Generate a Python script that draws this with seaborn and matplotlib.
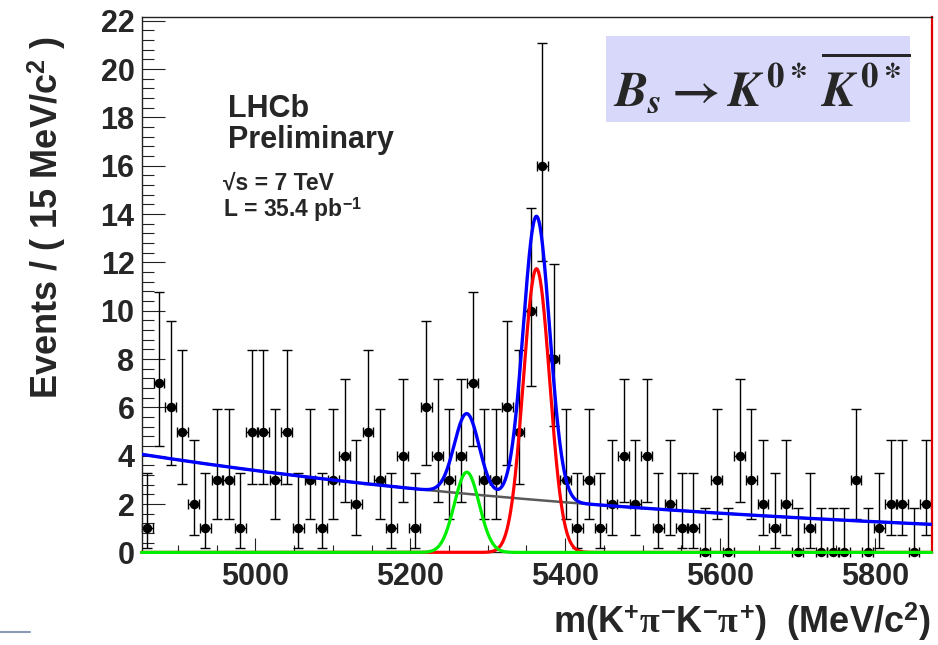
import math
import numpy as np
import pandas as pd
import matplotlib
matplotlib.use("Agg")
import matplotlib.pyplot as plt
from matplotlib.lines import Line2D
from matplotlib.patches import Rectangle
from matplotlib.ticker import MultipleLocator
import seaborn as sns

# ---- histogram: candidates per 15 MeV/c^2 bin ----
mass_lo = 4853.0
mass_hi = 5873.0
bin_width = 15.0
counts = [1, 7, 6, 5, 2, 1, 3, 3, 1, 5, 5, 3, 5, 1, 3, 1, 3, 4, 2, 5, 3, 1, 4,
          1, 6, 4, 3, 4, 7, 3, 3, 6, 5, 10, 16, 8, 3, 1,
          3, 1, 2, 4, 2, 4, 1, 2, 1, 1, 0, 3, 0, 4, 3, 2, 1, 2, 0, 1, 0, 0, 0,
          3, 0, 1, 2, 2, 0, 2]

# ---- fit model components (events per bin) ----
bkg_at_lo = 4.06          # exponential background at the low edge
bkg_at_hi = 1.16          # ... and at the high edge
bs_mean, bs_sigma, bs_peak = 5363.0, 17.0, 11.74   # B_s signal
bd_mean, bd_sigma, bd_peak = 5273.0, 16.0, 3.32    # B_d signal

x_ticks = [5000, 5200, 5400, 5600, 5800]
x_tick_labels = ["5000", "5200", "5400", "5600", "5800"]
y_ticks = [0, 2, 4, 6, 8, 10, 12, 14, 16, 18, 20, 22]
y_max = 22.17

W, H = 938, 645


def poisson_cdf(k, mu):
    term = math.exp(-mu)
    total = term
    for i in range(1, k + 1):
        term *= mu / i
        total += term
    return total


def bisect(f, lo, hi):
    for _ in range(80):
        mid = 0.5 * (lo + hi)
        if f(mid) > 0:
            lo = mid
        else:
            hi = mid
    return 0.5 * (lo + hi)


def poisson_interval(n, cl=0.682689):
    a = 0.5 * (1.0 - cl)
    up = bisect(lambda mu: poisson_cdf(n, mu) - a, 0.0, n + 30.0)
    if n == 0:
        low = 0.0
    else:
        low = bisect(lambda mu: poisson_cdf(n - 1, mu) - (1.0 - a), 0.0, n + 30.0)
    return low, up


centers = mass_lo + bin_width * (np.arange(len(counts)) + 0.5)
intervals = [poisson_interval(n) for n in counts]
err_lo = [n - lo for n, (lo, hi) in zip(counts, intervals)]
err_hi = [hi - n for n, (lo, hi) in zip(counts, intervals)]
data = pd.DataFrame({"mass": centers, "events": counts})

m = np.linspace(mass_lo, mass_hi, 2000)
slope = math.log(bkg_at_lo / bkg_at_hi) / (mass_hi - mass_lo)
bkg = bkg_at_lo * np.exp(-slope * (m - mass_lo))
bs = bs_peak * np.exp(-0.5 * ((m - bs_mean) / bs_sigma) ** 2)
bd = bd_peak * np.exp(-0.5 * ((m - bd_mean) / bd_sigma) ** 2)
curves = pd.DataFrame({"mass": m, "bkg": bkg, "bs": bs, "bd": bd,
                       "total": bkg + bs + bd})

# ---- style ----
sns.set_theme(style="white")
plt.rcParams["font.family"] = ["Liberation Sans", "DejaVu Sans"]
plt.rcParams["font.weight"] = "bold"
plt.rcParams["mathtext.fontset"] = "custom"
plt.rcParams["mathtext.rm"] = "Liberation Sans:bold"
plt.rcParams["mathtext.bf"] = "Liberation Sans:bold"
plt.rcParams["mathtext.sf"] = "Liberation Sans:bold"
plt.rcParams["mathtext.it"] = "Liberation Serif"

fig = plt.figure(figsize=(W / 100, H / 100), dpi=100)
fig.patch.set_facecolor("white")


def fx(x):
    return x / W


def fy(y):
    return 1.0 - y / H


ax_l, ax_r, ax_t, ax_b = 141.5, 931.5, 16.7, 552.4
ax = fig.add_axes([fx(ax_l), fy(ax_b), (ax_r - ax_l) / W, (ax_b - ax_t) / H])
ax.set_facecolor("white")

# data points with Poisson error bars
eb = ax.errorbar(data["mass"], data["events"], yerr=[err_lo, err_hi], xerr=7.0,
                 fmt="o", color="black", ms=5.8, elinewidth=1.0, capsize=3.5,
                 capthick=1.0, zorder=2)
for child in eb.get_children():
    child.set_clip_on(False)
eb.lines[0].set_clip_on(False)

# fit curves
sns.lineplot(data=curves, x="mass", y="bkg", ax=ax, color="#5a5a5a", lw=1.8,
             estimator=None, sort=False, zorder=3)
sns.lineplot(data=curves, x="mass", y="bs", ax=ax, color="#ff0000", lw=2.3,
             estimator=None, sort=False, zorder=4)
sns.lineplot(data=curves, x="mass", y="bd", ax=ax, color="#00ee00", lw=2.3,
             estimator=None, sort=False, zorder=5)
sns.lineplot(data=curves, x="mass", y="total", ax=ax, color="#0000ff", lw=2.4,
             estimator=None, sort=False, zorder=6)
# signal components run along the baseline: keep their full width visible
for ln in ax.lines[-3:-1]:
    ln.set_clip_on(False)

ax.set_xlim(mass_lo, mass_hi)
ax.set_ylim(0, y_max)
ax.set_xlabel("")
ax.set_ylabel("")

ax.set_xticks(x_ticks)
ax.set_xticklabels(x_tick_labels)
ax.xaxis.set_minor_locator(MultipleLocator(50))
ax.set_yticks(y_ticks)
ax.set_yticklabels([str(v) for v in y_ticks])
ax.yaxis.set_minor_locator(MultipleLocator(0.4))

ax.tick_params(axis="both", which="both", direction="in", color="#222222",
               width=0.8, labelsize=22, bottom=True, left=True, top=False,
               right=False)
ax.tick_params(axis="y", which="major", length=16.6, pad=5)
ax.tick_params(axis="y", which="minor", length=8.4)
ax.tick_params(axis="x", which="major", length=10, pad=7)
ax.tick_params(axis="x", which="minor", length=5)
for lab in ax.get_xticklabels() + ax.get_yticklabels():
    lab.set_fontweight("bold")

for side in ("left", "bottom", "top"):
    ax.spines[side].set_color("#222222")
    ax.spines[side].set_linewidth(1.0)
ax.spines["right"].set_color("#e00000")
ax.spines["right"].set_linewidth(1.6)

# axis titles
fig.text(fx(47), fy(36), r"Events / ( 15 MeV/c$^{\mathrm{2}}$ )", rotation=90,
         ha="center", va="top", fontsize=26, fontweight="bold")
fig.text(fx(931), fy(622),
         r"m(K$^{\mathrm{+}}\pi^{\mathrm{-}}$K$^{\mathrm{-}}\pi^{\mathrm{+}}$)  (MeV/c$^{\mathrm{2}}$)",
         ha="right", va="center", fontsize=26, fontweight="bold")

# experiment labels
fig.text(fx(228), fy(116.7), "LHCb", ha="left", va="baseline", fontsize=22,
         fontweight="bold")
fig.text(fx(228), fy(148), "Preliminary", ha="left", va="baseline",
         fontsize=22, fontweight="bold")
fig.text(fx(222.7), fy(190), "\u221As = 7 TeV", ha="left", va="baseline",
         fontsize=16.5, fontweight="bold")
fig.text(fx(222.7), fy(216.7), r"L = 35.4 pb$^{\mathrm{-1}}$", ha="left",
         va="baseline", fontsize=16.5, fontweight="bold")

# decay channel box
fig.patches.append(Rectangle((fx(606), fy(122)), (910 - 606) / W, (122 - 36) / H,
                             transform=fig.transFigure, facecolor="#d8d8fa",
                             edgecolor="none", zorder=5))
fig.text(fx(613), fy(106), r"$B_s \rightarrow K^{0*}\,\overline{K^{0*}}$",
         ha="left", va="baseline", fontsize=36, fontweight="normal",
         math_fontfamily="stix", zorder=6)

# short rule at the lower left of the page
fig.lines.append(Line2D([0, fx(30)], [fy(632), fy(632)], transform=fig.transFigure,
                        color="#8a9ab8", lw=1.5))

fig.savefig("out.png", dpi=100, facecolor="white")
